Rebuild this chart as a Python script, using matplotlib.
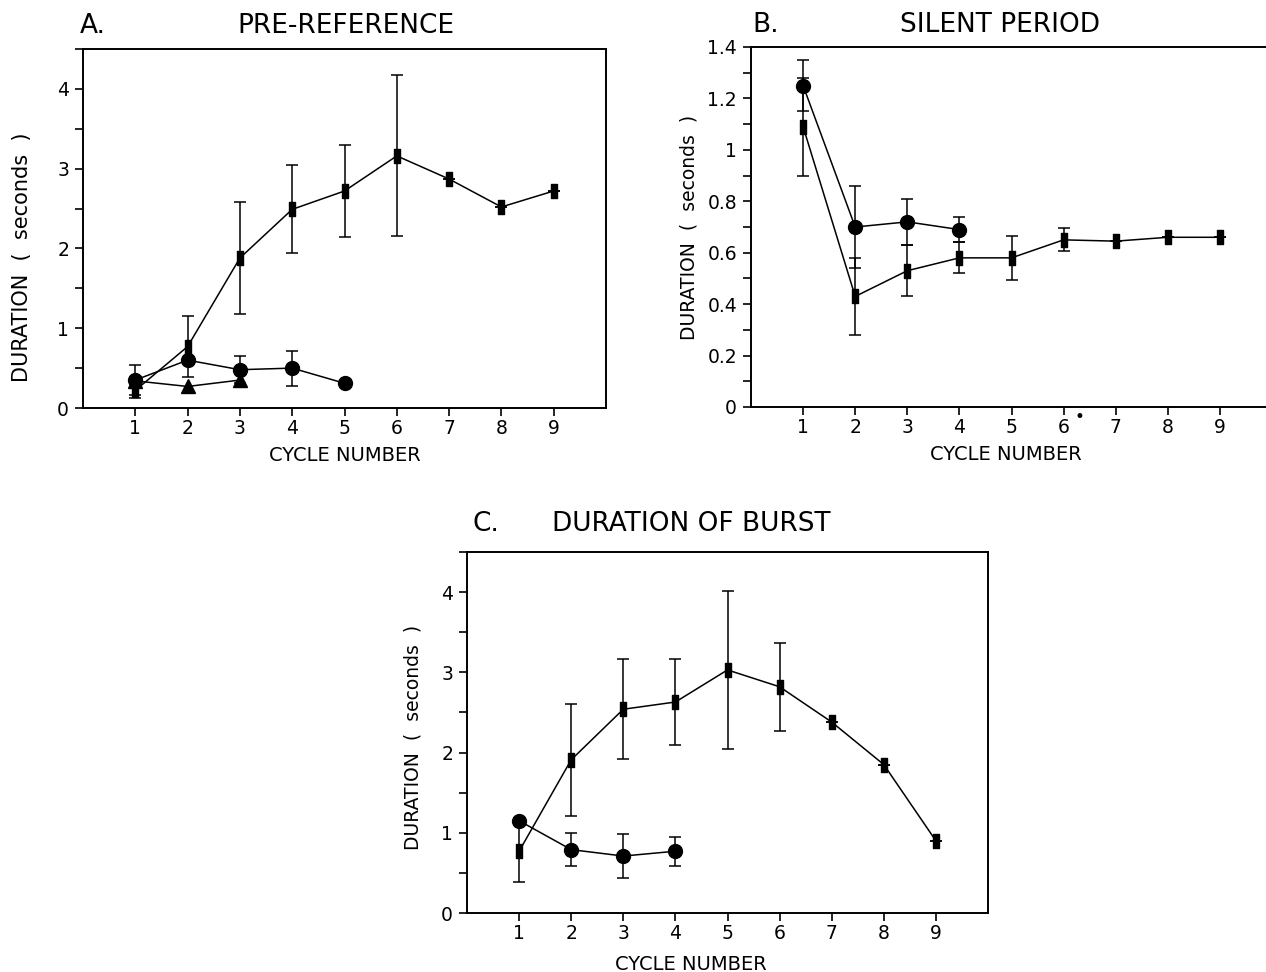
import numpy as np
import matplotlib
matplotlib.use("Agg")
import matplotlib.pyplot as plt
from matplotlib.path import Path
from matplotlib.ticker import MultipleLocator, FormatStrFormatter

plt.rcParams["font.family"] = ["DejaVu Sans"]

# Panel A: pre-reference
a_sq_x = [1, 2, 3, 4, 5, 6, 7, 8, 9]
a_sq_y = [0.22, 0.77, 1.88, 2.49, 2.72, 3.16, 2.87, 2.52, 2.72]
a_sq_err = [0.09, 0.38, 0.70, 0.55, 0.58, 1.01, 0.0, 0.0, 0.0]
a_ci_x = [1, 2, 3, 4, 5]
a_ci_y = [0.35, 0.60, 0.48, 0.50, 0.31]
a_ci_err = [0.19, 0.0, 0.17, 0.22, 0.0]
a_tr_x = [1, 2, 3]
a_tr_y = [0.34, 0.27, 0.35]

# Panel B: silent period
b_sq_x = [1, 2, 3, 4, 5, 6, 7, 8, 9]
b_sq_y = [1.09, 0.43, 0.53, 0.58, 0.58, 0.65, 0.645, 0.66, 0.66]
b_sq_err = [0.19, 0.15, 0.10, 0.06, 0.085, 0.045, 0.0, 0.0, 0.0]
b_ci_x = [1, 2, 3, 4]
b_ci_y = [1.25, 0.70, 0.72, 0.69]
b_ci_err = [0.10, 0.16, 0.09, 0.05]

# Panel C: duration of burst
c_sq_x = [1, 2, 3, 4, 5, 6, 7, 8, 9]
c_sq_y = [0.77, 1.91, 2.54, 2.63, 3.03, 2.82, 2.38, 1.85, 0.90]
c_sq_err = [0.38, 0.70, 0.62, 0.53, 0.99, 0.55, 0.0, 0.0, 0.0]
c_ci_x = [1, 2, 3, 4]
c_ci_y = [1.15, 0.79, 0.71, 0.77]
c_ci_err = [0.0, 0.21, 0.27, 0.18]

cycle_ticks = [1, 2, 3, 4, 5, 6, 7, 8, 9]

# tall narrow rectangle marker
bar_marker = Path([(-0.42, -1), (0.42, -1), (0.42, 1), (-0.42, 1), (-0.42, -1)],
                  [Path.MOVETO, Path.LINETO, Path.LINETO, Path.LINETO, Path.CLOSEPOLY])

W, H = 1266, 972
fig = plt.figure(figsize=(W / 100, H / 100), dpi=100)


def px_axes(left, top, right, bottom):
    return fig.add_axes([left / W, 1 - bottom / H, (right - left) / W, (bottom - top) / H])


def style_axes(ax, ymax, major, minor, fmt, ylab_size=13.5):
    ax.set_xlim(0, 10)
    ax.set_ylim(0, ymax)
    ax.set_xticks(cycle_ticks)
    ax.yaxis.set_major_locator(MultipleLocator(major))
    ax.yaxis.set_minor_locator(MultipleLocator(minor))
    ax.yaxis.set_major_formatter(FormatStrFormatter(fmt))
    ax.tick_params(axis="both", which="major", direction="out", length=6, width=1.2,
                   labelsize=13.5, pad=2)
    ax.tick_params(axis="y", which="major", pad=4)
    ax.tick_params(axis="y", which="minor", direction="out", length=6, width=1.2)
    for s in ax.spines.values():
        s.set_linewidth(1.4)
    ax.set_xlabel("CYCLE NUMBER", fontsize=14)
    ax.set_ylabel("DURATION  (  seconds  )", fontsize=ylab_size)


def series(ax, x, y, err, marker, ms):
    ax.errorbar(x, y, yerr=err, color="black", lw=1.1, elinewidth=1.1, capsize=4.5,
                capthick=1.1, marker=marker, ms=ms, mfc="black", mec="black")


def title(x_letter, x_center, y, letter, text):
    fig.text(x_letter / W, 1 - y / H, letter, fontsize=19, va="center", ha="left")
    fig.text(x_center / W, 1 - y / H, text, fontsize=19, va="center", ha="center")


# A
axA = px_axes(83, 49, 606, 408)
style_axes(axA, 4.5, 1, 0.5, "%g", ylab_size=15)
series(axA, a_sq_x, a_sq_y, a_sq_err, bar_marker, 10)
series(axA, a_ci_x, a_ci_y, a_ci_err, "o", 10)
axA.plot(a_tr_x, a_tr_y, color="black", lw=1.1, marker="^", ms=10)
axA.xaxis.set_label_coords(0.5, -0.105)
axA.yaxis.set_label_coords(-0.098, 0.42)
title(80, 346, 26, "A.", "PRE-REFERENCE")

# B
axB = px_axes(751, 47, 1272, 407)
style_axes(axB, 1.4, 0.2, 0.1, "%g")
series(axB, b_sq_x, b_sq_y, b_sq_err, bar_marker, 10)
series(axB, b_ci_x, b_ci_y, b_ci_err, "o", 10)
axB.spines["right"].set_visible(False)
axB.xaxis.set_label_coords(0.49, -0.105)
axB.yaxis.set_label_coords(-0.10, 0.5)
axB.annotate("•", xy=(6, 0), xytext=(11.5, -7.5), textcoords="offset points",
             fontsize=12, ha="center", va="center", annotation_clip=False)
title(752, 1000, 25, "B.", "SILENT PERIOD")

# C
axC = px_axes(467, 552, 988, 913)
style_axes(axC, 4.5, 1, 0.5, "%g")
series(axC, c_sq_x, c_sq_y, c_sq_err, bar_marker, 10)
series(axC, c_ci_x, c_ci_y, c_ci_err, "o", 10)
axC.xaxis.set_label_coords(0.43, -0.115)
axC.yaxis.set_label_coords(-0.085, 0.487)
title(472, 691, 524, "C.", "DURATION OF BURST")

fig.savefig("out.png", dpi=100)
